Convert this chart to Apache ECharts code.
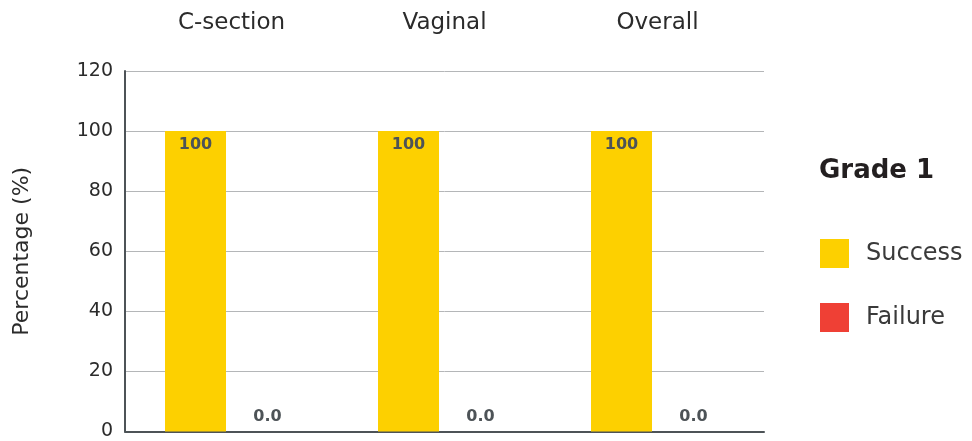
<!DOCTYPE html>
<html>
<head>
<meta charset="utf-8">
<script src="https://cdn.jsdelivr.net/npm/echarts@6/dist/echarts.min.js"></script>
<style>
html,body{margin:0;padding:0;background:#fff;}
#chart{width:972px;height:441px;}
</style>
</head>
<body>
<div id="chart"></div>
<script>
const categories = ['C-section', 'Vaginal', 'Overall'];
const successValues = [100, 100, 100];
const failureValues = [0.0, 0.0, 0.0];
const yTicks = [0, 20, 40, 60, 80, 100, 120];

const FONT = 'DejaVu Sans';
const chart = echarts.init(document.getElementById('chart'));
chart.setOption({
  animation: false,
  textStyle: { fontFamily: FONT },
  title: {
    text: 'Grade 1',
    left: 814, top: 153,
    textStyle: { fontFamily: FONT, fontSize: 26, fontWeight: 'bold', color: '#231f20' }
  },
  legend: {
    orient: 'vertical',
    left: 815, top: 234,
    itemWidth: 29, itemHeight: 29,
    itemGap: 35,
    icon: 'rect',
    textStyle: { fontFamily: FONT, fontSize: 24, color: '#3a3a3a', padding: [0, 0, 0, 12] },
    data: ['Success', 'Failure']
  },
  grid: { left: 125, right: 208, top: 71, bottom: 8, containLabel: false },
  xAxis: [
    {
      type: 'category', data: categories, position: 'top',
      axisLine: { show: false }, axisTick: { show: false },
      axisLabel: { fontFamily: FONT, fontSize: 23, color: '#2b2b2b', margin: 36 }
    },
    {
      type: 'category', data: categories, position: 'bottom',
      axisLine: { show: true, lineStyle: { color: '#4d5357', width: 2 } },
      axisTick: { show: false }, axisLabel: { show: false }
    }
  ],
  yAxis: {
    type: 'value', min: yTicks[0], max: yTicks[yTicks.length - 1], interval: 20,
    name: 'Percentage (%)', nameLocation: 'middle', nameGap: 92,
    nameTextStyle: { fontFamily: FONT, fontSize: 22, color: '#2b2b2b' },
    axisLine: { show: true, lineStyle: { color: '#4d5357', width: 2 } },
    axisTick: { show: false },
    axisLabel: { fontFamily: FONT, fontSize: 19, color: '#2b2b2b', margin: 12 },
    splitLine: { lineStyle: { color: '#b4b6b8', width: 1 } }
  },
  series: [
    {
      name: 'Success', type: 'bar', data: successValues, xAxisIndex: 0,
      barWidth: 61, barGap: '18%',
      itemStyle: { color: '#FDD000' },
      label: {
        show: true, position: 'insideTop', distance: 6,
        fontFamily: FONT, fontSize: 16, fontWeight: 'bold', color: '#4d5357',
        formatter: p => String(Math.round(p.value))
      }
    },
    {
      name: 'Failure', type: 'bar', data: failureValues, xAxisIndex: 0,
      barWidth: 61, barGap: '18%',
      itemStyle: { color: '#EF4035' },
      label: {
        show: true, position: 'top', distance: 7,
        fontFamily: FONT, fontSize: 16, fontWeight: 'bold', color: '#4d5357',
        formatter: p => Number(p.value).toFixed(1)
      }
    }
  ]
});
</script>
</body>
</html>
